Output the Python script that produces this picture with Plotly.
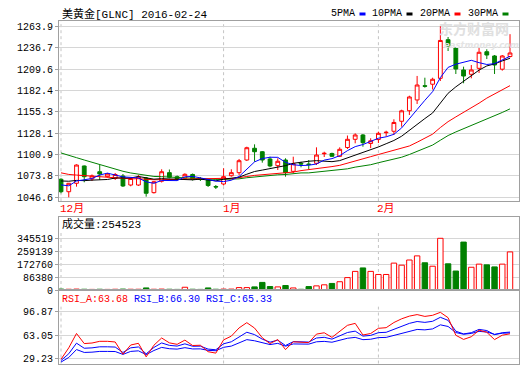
import pandas as pd
import plotly.graph_objects as go

W, H = 520, 365

# ---------------- data ----------------
dates = [d.strftime("%Y-%m-%d") for d in pd.bdate_range("2015-12-02", "2016-02-24")
         if d.strftime("%m-%d") not in ("12-25", "01-01")]

opens = [1069.5, 1053.7, 1064.4, 1086.4, 1069.9, 1079.1, 1072.8, 1070.5, 1073.7, 1062.2,
         1062.2, 1071.1, 1052.5, 1067.0, 1077.9, 1072.8, 1070.8, 1075.6, 1070.5, 1068.6,
         1060.3, 1063.5, 1074.0, 1077.9, 1094.0, 1108.9, 1104.5, 1095.3, 1086.8, 1094.0,
         1079.6, 1089.8, 1088.9, 1089.8, 1101.9, 1102.3, 1098.7, 1109.9, 1120.3, 1125.8,
         1115.0, 1120.0, 1128.7, 1130.5, 1143.2, 1156.6, 1170.3, 1188.4, 1190.3, 1197.8,
         1246.9, 1236.3, 1208.4, 1202.9, 1210.5, 1231.6, 1226.2, 1209.4, 1225.5]
highs = [1070.8, 1064.8, 1088.5, 1087.0, 1075.6, 1087.6, 1077.5, 1077.5, 1076.2, 1071.8,
         1074.9, 1072.4, 1067.3, 1082.2, 1081.9, 1074.3, 1077.1, 1076.8, 1072.4, 1069.9,
         1062.2, 1083.5, 1082.2, 1095.3, 1110.9, 1113.9, 1105.4, 1098.2, 1096.2, 1096.2,
         1098.2, 1091.8, 1094.0, 1110.1, 1104.5, 1103.3, 1110.1, 1125.1, 1127.9, 1127.0,
         1121.6, 1130.0, 1131.2, 1145.7, 1157.9, 1175.7, 1200.8, 1198.6, 1198.6, 1263.9,
         1250.3, 1237.0, 1212.6, 1214.7, 1236.3, 1234.7, 1227.4, 1227.4, 1253.9]
lows = [1051.7, 1046.6, 1060.1, 1065.7, 1067.3, 1068.6, 1071.8, 1068.6, 1059.7, 1060.6,
        1061.0, 1047.4, 1051.4, 1065.4, 1070.8, 1067.9, 1069.9, 1067.9, 1067.3, 1059.7,
        1057.1, 1061.6, 1072.8, 1074.9, 1092.7, 1091.8, 1090.6, 1084.7, 1081.3, 1072.8,
        1077.1, 1084.7, 1082.2, 1087.6, 1097.8, 1097.8, 1097.8, 1108.0, 1115.2, 1110.9,
        1109.1, 1115.6, 1124.0, 1125.8, 1136.3, 1151.2, 1165.2, 1185.9, 1183.6, 1194.4,
        1232.5, 1203.3, 1191.5, 1197.8, 1204.6, 1222.3, 1203.3, 1207.5, 1224.2]
closes = [1053.7, 1064.4, 1087.6, 1072.8, 1073.7, 1076.2, 1076.2, 1075.6, 1061.0, 1070.5,
          1072.4, 1051.7, 1066.4, 1079.1, 1072.0, 1069.9, 1075.8, 1069.2, 1069.5, 1061.6,
          1059.7, 1072.8, 1077.9, 1093.1, 1109.6, 1104.5, 1094.0, 1086.4, 1092.4, 1077.9,
          1089.3, 1088.9, 1088.3, 1100.3, 1102.5, 1098.7, 1107.6, 1120.3, 1125.8, 1116.0,
          1118.4, 1127.9, 1129.2, 1141.7, 1156.5, 1174.1, 1189.3, 1187.7, 1196.6, 1245.9,
          1238.9, 1209.6, 1200.7, 1208.4, 1230.9, 1227.4, 1214.7, 1226.2, 1230.0]
volumes = [6000, 5000, 6000, 5000, 4000, 5000, 4000, 5000, 6000, 5000,
           5000, 13800, 5000, 6000, 5000, 4000, 18400, 5000, 4000, 13800,
           5000, 6000, 6000, 16100, 16100, 20700, 50700, 23000, 20700, 29900,
           13800, 4600, 23000, 27600, 34600, 43800, 55300, 82900, 124400, 147400,
           124400, 103700, 103700, 179700, 165900, 200400, 228000, 182000, 158900, 345519,
           175100, 126700, 320200, 152000, 172800, 168200, 154300, 172800, 254523]
# closes of the sessions before the visible window (they only feed the moving averages / RSI)
prior_closes = [1166, 1166, 1162, 1163, 1166, 1174, 1147, 1142, 1135, 1114,
                1105, 1104, 1088, 1091, 1088, 1085, 1084, 1081, 1084, 1070,
                1068, 1077, 1076, 1067, 1074, 1070, 1057, 1065, 1066]

price_ticks = [1046.6, 1073.8, 1100.9, 1128.1, 1155.3, 1182.4, 1209.6, 1236.7, 1263.9]
volume_ticks = [0, 86380, 172760, 259139, 345519]
rsi_ticks = [29.23, 63.05, 96.87]
month_names = {"12": "12月", "01": "1月", "02": "2月"}
ma_periods = [5, 10, 20, 30]
ma_names = ["5PMA", "10PMA", "20PMA", "30PMA"]
ma_colors = ["#0000ff", "#000000", "#ff0000", "#008000"]
rsi_periods = [6, 12, 24]
rsi_colors = ["#ff0000", "#0000ff", "#0000ff"]
rsi_texts = ["RSI_A:63.68", "RSI_B:66.30", "RSI_C:65.33"]
title_text = "美黄金[GLNC] 2016-02-24"

# ---------------- derived ----------------
n = len(dates)
idx = list(range(n))
allc = pd.Series(prior_closes + closes, dtype=float)
mas = [allc.rolling(p).mean().iloc[-n:].tolist() for p in ma_periods]
diff = allc.diff()
rsis = []
for p in rsi_periods:
    up = diff.clip(lower=0).ewm(alpha=1 / p, adjust=False).mean()
    ab = diff.abs().ewm(alpha=1 / p, adjust=False).mean()
    rsis.append((up / ab * 100).iloc[-n:].tolist())
is_up = [c >= o for o, c in zip(opens, closes)]
month_starts = [i for i in range(n) if i == 0 or dates[i][5:7] != dates[i - 1][5:7]]

RED, GREEN = "#ff0000", "#008000"
FRAME = "#a0a0a0"
GRID = "#d6d6d6"
MONO = "Liberation Mono, Noto Sans CJK SC, monospace"


def py(p):  # pixel row -> paper y
    return 1 - p / H


def px(p):
    return p / W


# panel geometry (pixels)
X0, X1 = 59, 519
MAIN = (20.8, 201.2)
VOL = (216.7, 290.0)
RSI = (290.0, 363.5)

fig = go.Figure()

fig.add_trace(go.Candlestick(
    x=idx, open=opens, high=highs, low=lows, close=closes,
    increasing=dict(line=dict(color=RED, width=1), fillcolor="#ffffff"),
    decreasing=dict(line=dict(color=GREEN, width=1), fillcolor=GREEN),
    whiskerwidth=0, showlegend=False, hoverinfo="skip",
    xaxis="x", yaxis="y"))
for vals, col in zip(mas[::-1], ma_colors[::-1]):
    fig.add_trace(go.Scatter(x=idx, y=vals, mode="lines", line=dict(color=col, width=1),
                             showlegend=False, hoverinfo="skip", xaxis="x", yaxis="y"))

fig.add_trace(go.Bar(
    x=idx, y=volumes, width=0.7,
    marker=dict(color=["#ffffff" if u else GREEN for u in is_up],
                line=dict(color=[RED if u else GREEN for u in is_up], width=1)),
    showlegend=False, hoverinfo="skip", xaxis="x2", yaxis="y2"))

for vals, col in zip(rsis[::-1], rsi_colors[::-1]):
    fig.add_trace(go.Scatter(x=idx, y=vals, mode="lines", line=dict(color=col, width=1),
                             showlegend=False, hoverinfo="skip", xaxis="x3", yaxis="y3"))

xr = [-0.26, n + 0.16]
xcommon = dict(range=xr, showticklabels=False, ticks="", showgrid=False, zeroline=False,
               showline=True, linecolor=FRAME, linewidth=1, mirror=True, automargin=False,
               domain=[px(X0), px(X1)])
ycommon = dict(showgrid=True, gridcolor=GRID, gridwidth=1, zeroline=False,
               showline=True, linecolor=FRAME, linewidth=1, mirror=True, automargin=False,
               ticks="outside", ticklen=3, tickcolor=FRAME,
               tickfont=dict(family=MONO, size=10, color="#000000"))

fig.update_layout(
    width=W, height=H, margin=dict(l=0, r=0, t=0, b=0, autoexpand=False),
    paper_bgcolor="#ffffff", plot_bgcolor="#ffffff",
    showlegend=False, boxgap=0.3,
    xaxis=dict(**xcommon, anchor="y", rangeslider=dict(visible=False)),
    xaxis2=dict(**xcommon, anchor="y2", matches="x"),
    xaxis3=dict(**xcommon, anchor="y3", matches="x"),
    yaxis=dict(**ycommon, domain=[py(MAIN[1]), py(MAIN[0])], range=[1041.64, 1270.89],
               tickvals=price_ticks, ticktext=[f"{v:.1f}" for v in price_ticks], anchor="x"),
    yaxis2=dict(**ycommon, domain=[py(VOL[1]), py(VOL[0])], range=[0, 489870],
                tickvals=volume_ticks, ticktext=[str(v) for v in volume_ticks], anchor="x2"),
    yaxis3=dict(**ycommon, domain=[py(RSI[1]), py(RSI[0])], range=[22.0, 128.23],
                tickvals=rsi_ticks, ticktext=[f"{v:.2f}" for v in rsi_ticks], anchor="x3"),
)

shapes = []
annotations = []
for m in month_starts:
    for xref, yref, ytop in (("x", "y domain", 1.0), ("x2", "y2 domain", 0.795), ("x3", "y3 domain", 0.773)):
        shapes.append(dict(type="line", xref=xref, yref=yref, x0=m, x1=m, y0=0, y1=ytop,
                           line=dict(color="#c4c4c4", width=1, dash="3px,3px"), layer="below"))
    annotations.append(dict(xref="x", yref="paper", x=m, y=py(208.5), xanchor="left", yanchor="middle",
                            xshift=-3, text=month_names[dates[m][5:7]], showarrow=False,
                            font=dict(family=MONO, size=11, color=RED)))

# title
annotations.append(dict(xref="paper", yref="paper", x=px(60), y=py(14), xanchor="left", yanchor="middle",
                        text=title_text, showarrow=False, font=dict(family=MONO, size=11, color="#000000")))
# MA legend
leg_right = [357, 404, 452, 500]
for name, col, xr_ in zip(ma_names, ma_colors, leg_right):
    annotations.append(dict(xref="paper", yref="paper", x=px(xr_), y=py(14), xanchor="right",
                            yanchor="middle", text=name, showarrow=False,
                            font=dict(family=MONO, size=10, color="#000000")))
    shapes.append(dict(type="rect", xref="paper", yref="paper", x0=px(xr_ + 2.5), x1=px(xr_ + 8.5),
                       y0=py(15.5), y1=py(12.5), fillcolor=col, line=dict(width=0)))
# watermark
annotations.append(dict(xref="paper", yref="paper", x=px(437), y=py(28.5), xanchor="left", yanchor="middle",
                        text="<b>东方财富网</b>", showarrow=False,
                        font=dict(family="Noto Sans CJK SC", size=14, color="#e0e0e0")))
annotations.append(dict(xref="paper", yref="paper", x=px(442), y=py(44.5), xanchor="left", yanchor="middle",
                        text="<b><i>eastmoney.com</i></b>", showarrow=False,
                        font=dict(family="DejaVu Sans", size=8.5, color="#e4e4e4")))
# volume label
annotations.append(dict(xref="paper", yref="paper", x=px(60), y=py(224), xanchor="left", yanchor="middle",
                        text=f"成交量:{volumes[-1]}", showarrow=False,
                        font=dict(family=MONO, size=11, color="#000000")))
# RSI label
rsi_label = " ".join(f'<span style="color:{c}">{t}</span>' for t, c in zip(rsi_texts, rsi_colors))
annotations.append(dict(xref="paper", yref="paper", x=px(60), y=py(299.5), xanchor="left", yanchor="middle",
                        text=rsi_label, showarrow=False, font=dict(family=MONO, size=10, color="#000000")))

fig.update_layout(shapes=shapes, annotations=annotations)
fig.write_html("out.html", config={"displayModeBar": False, "staticPlot": True},
               post_script="document.body.style.margin='0';document.body.style.padding='0';"
                           "document.documentElement.style.overflow='hidden';")
